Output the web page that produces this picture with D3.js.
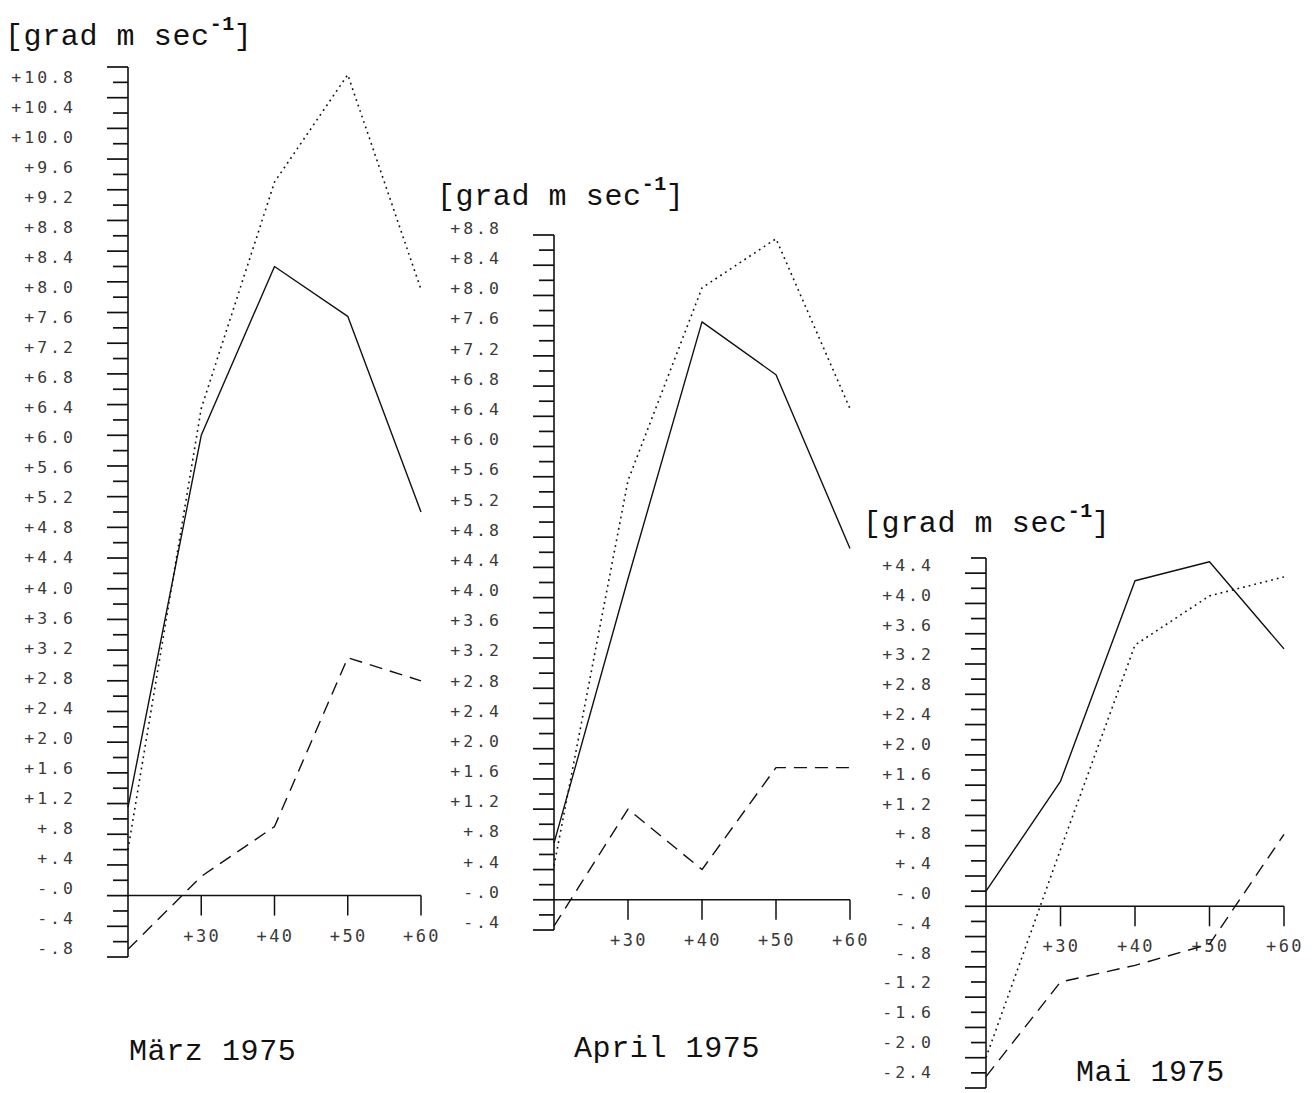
<!DOCTYPE html>
<html><head><meta charset="utf-8">
<script src="https://cdn.jsdelivr.net/npm/d3@7"></script>
<style>
html,body{margin:0;padding:0;background:#fff;}
svg{display:block;}
</style></head>
<body>
<svg id="chart" width="1316" height="1093"></svg>
<script>
// ---------- data ----------
const xValues = [20, 30, 40, 50, 60];
const xTickValues = [30, 40, 50, 60];
const xTickLabels = ["+30", "+40", "+50", "+60"];

const months = ["März 1975", "April 1975", "Mai 1975"];
const unitLabel = "grad m sec";

const maerzSolid  = [1.15, 6.0, 8.2, 7.55, 5.0];
const maerzDotted = [0.6, 6.35, 9.3, 10.7, 7.9];
const maerzDashed = [-0.7, 0.25, 0.9, 3.1, 2.8];

const aprilSolid  = [0.75, 4.25, 7.65, 6.95, 4.65];
const aprilDotted = [0.45, 5.55, 8.1, 8.75, 6.5];
const aprilDashed = [-0.35, 1.2, 0.4, 1.75, 1.75];

const maiSolid  = [0.2, 1.65, 4.3, 4.55, 3.4];
const maiDotted = [-2.0, 0.75, 3.45, 4.1, 4.35];
const maiDashed = [-2.25, -1.0, -0.78, -0.5, 0.95];

const maerzYLabels = ["+10.8","+10.4","+10.0","+9.6","+9.2","+8.8","+8.4","+8.0","+7.6","+7.2","+6.8","+6.4","+6.0","+5.6","+5.2","+4.8","+4.4","+4.0","+3.6","+3.2","+2.8","+2.4","+2.0","+1.6","+1.2","+.8","+.4","-.0","-.4","-.8"];
const aprilYLabels = ["+8.8","+8.4","+8.0","+7.6","+7.2","+6.8","+6.4","+6.0","+5.6","+5.2","+4.8","+4.4","+4.0","+3.6","+3.2","+2.8","+2.4","+2.0","+1.6","+1.2","+.8","+.4","-.0","-.4"];
const maiYLabels = ["+4.4","+4.0","+3.6","+3.2","+2.8","+2.4","+2.0","+1.6","+1.2","+.8","+.4","-.0","-.4","-.8","-1.2","-1.6","-2.0","-2.4"];

const maerzYDomain = [-0.8, 10.8];
const aprilYDomain = [-0.4, 8.8];
const maiYDomain = [-2.4, 4.6];

// ---------- layout ----------
const panels = [
  { month: months[0], axisX: 128, xEnd: 421, yTop: 67, yBot: 957, yDomain: maerzYDomain,
    labels: maerzYLabels, labTop: 77, labBot: 948,
    titleX: 5, titleY: 45, monthX: 129, monthY: 1060,
    solid: maerzSolid, dotted: maerzDotted, dashed: maerzDashed },
  { month: months[1], axisX: 554, xEnd: 850, yTop: 235, yBot: 930, yDomain: aprilYDomain,
    labels: aprilYLabels, labTop: 228, labBot: 922,
    titleX: 437, titleY: 205, monthX: 574, monthY: 1057,
    solid: aprilSolid, dotted: aprilDotted, dashed: aprilDashed },
  { month: months[2], axisX: 986, xEnd: 1284, yTop: 558, yBot: 1088, yDomain: maiYDomain,
    labels: maiYLabels, labTop: 565, labBot: 1072,
    titleX: 863, titleY: 532, monthX: 1076, monthY: 1081,
    solid: maiSolid, dotted: maiDotted, dashed: maiDashed }
];

const svg = d3.select("#chart");
const labelFont = "'DejaVu Sans Mono', monospace";
const typeFont = "'Courier New', 'Liberation Mono', monospace";

panels.forEach(p => {
  const g = svg.append("g");
  const x = d3.scaleLinear().domain([20, 60]).range([p.axisX, p.xEnd]);
  const y = d3.scaleLinear().domain(p.yDomain).range([p.yBot, p.yTop]);
  const labVals = p.labels.map(s => parseFloat(s));
  const yLab = d3.scaleLinear()
    .domain([d3.min(labVals), d3.max(labVals)])
    .range([p.labBot, p.labTop]);

  // y ticks every 0.2
  const n = Math.round((p.yDomain[1] - p.yDomain[0]) / 0.2);
  const ticks = d3.range(n + 1).map(i => +(p.yDomain[0] + i * 0.2).toFixed(2));
  g.selectAll("line.yt").data(ticks).enter().append("line")
    .attr("x1", (d, i) => p.axisX - ((i % 2 === 0) ? 21 : 15))
    .attr("x2", p.axisX)
    .attr("y1", d => y(d)).attr("y2", d => y(d))
    .attr("stroke", "#111").attr("stroke-width", 1.7);

  // vertical axis line
  g.append("line")
    .attr("x1", p.axisX).attr("x2", p.axisX)
    .attr("y1", y(p.yDomain[1])).attr("y2", y(p.yDomain[0]))
    .attr("stroke", "#111").attr("stroke-width", 1.6);

  // y labels
  g.selectAll("text.yl").data(p.labels).enter().append("text")
    .attr("x", p.axisX - 52)
    .attr("y", d => yLab(parseFloat(d)))
    .attr("dy", "0.36em")
    .attr("text-anchor", "end")
    .attr("font-family", labelFont)
    .attr("font-size", 16.5)
    .attr("letter-spacing", 3)
    .attr("fill", "#3a3a3a")
    .text(d => d);

  // x axis (zero line)
  g.append("line")
    .attr("x1", p.axisX).attr("x2", x(60))
    .attr("y1", y(0)).attr("y2", y(0))
    .attr("stroke", "#111").attr("stroke-width", 1.5);
  g.selectAll("line.xt").data(xTickValues).enter().append("line")
    .attr("x1", d => x(d)).attr("x2", d => x(d))
    .attr("y1", y(0)).attr("y2", y(0) + 20)
    .attr("stroke", "#111").attr("stroke-width", 1.5);
  g.selectAll("text.xl").data(xTickValues).enter().append("text")
    .attr("x", d => x(d) + 1)
    .attr("y", y(0) + 40)
    .attr("dy", "0.36em")
    .attr("text-anchor", "middle")
    .attr("font-family", labelFont)
    .attr("font-size", 17)
    .attr("letter-spacing", 2.5)
    .attr("fill", "#3a3a3a")
    .text((d, i) => xTickLabels[i]);

  // series
  const line = d3.line().x((d, i) => x(xValues[i])).y(d => y(d));
  const styles = [
    { data: p.solid, dash: null, w: 1.4 },
    { data: p.dotted, dash: "1.8,4", w: 1.6 },
    { data: p.dashed, dash: "13,8", w: 1.4 }
  ];
  styles.forEach(s => {
    g.append("path").datum(s.data)
      .attr("d", line)
      .attr("fill", "none")
      .attr("stroke", "#111")
      .attr("stroke-width", s.w)
      .attr("stroke-linejoin", "round")
      .attr("stroke-dasharray", s.dash);
  });

  // unit title
  const t = g.append("text")
    .attr("x", p.titleX).attr("y", p.titleY)
    .attr("font-family", typeFont)
    .attr("font-size", 30)
    .attr("letter-spacing", 0.6)
    .attr("fill", "#111");
  t.append("tspan").text("[" + unitLabel);
  t.append("tspan").attr("dy", -15).attr("font-size", 20).attr("font-weight", "bold").text("-1");
  t.append("tspan").attr("dy", 15).attr("dx", -1).text("]");

  // month label
  g.append("text")
    .attr("x", p.monthX).attr("y", p.monthY)
    .attr("font-family", typeFont)
    .attr("font-size", 30)
    .attr("letter-spacing", 0.6)
    .attr("fill", "#111")
    .text(p.month);
});
</script>
</body></html>
